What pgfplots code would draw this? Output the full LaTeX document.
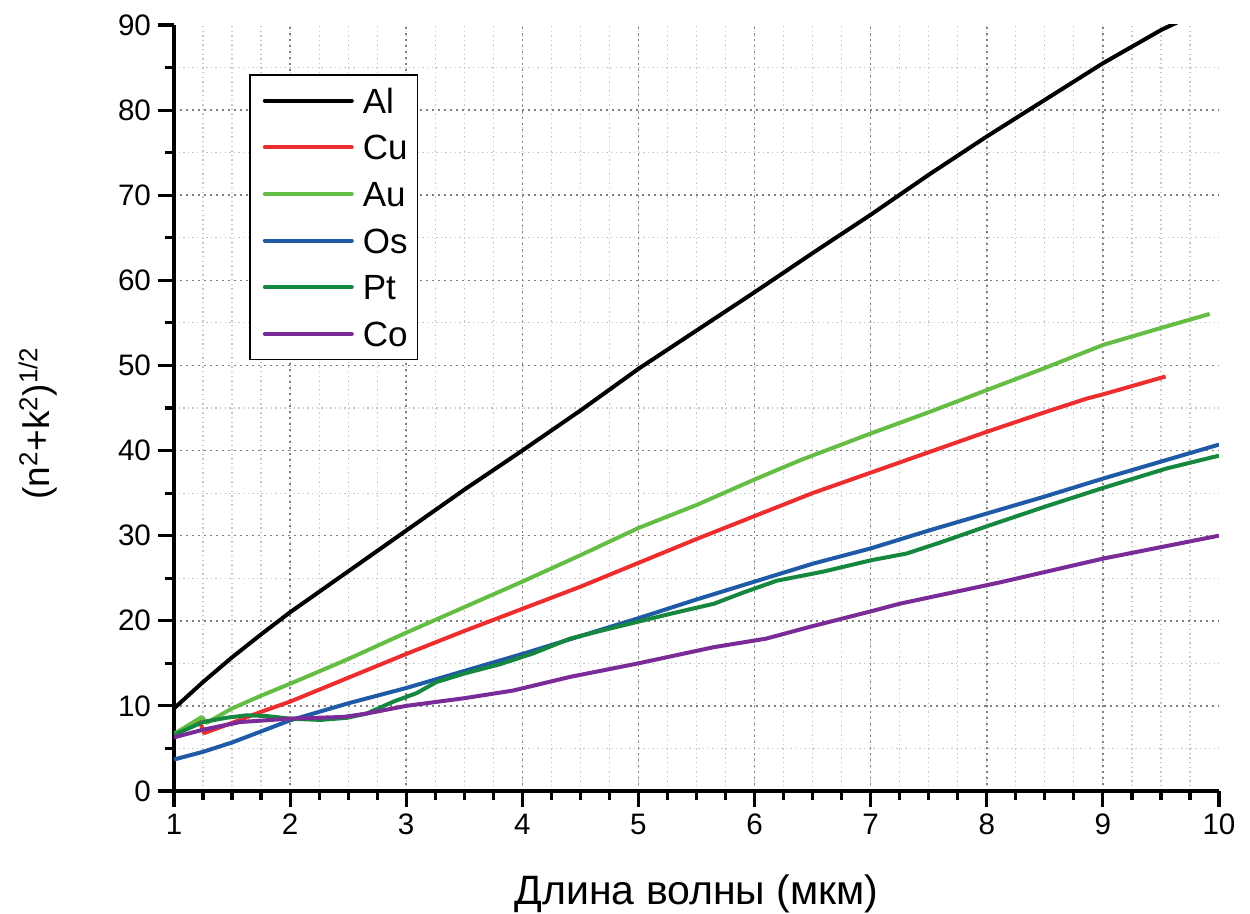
\documentclass[border=0pt]{standalone}
\usepackage{fontspec}
\setmainfont{Liberation Sans}
\usepackage{pgfplots}
\pgfplotsset{compat=1.18}

\definecolor{cAl}{HTML}{000000}
\definecolor{cCu}{HTML}{ED2E2E}
\definecolor{cAu}{HTML}{66BD46}
\definecolor{cOs}{HTML}{1F5AA6}
\definecolor{cPt}{HTML}{16873E}
\definecolor{cCo}{HTML}{7B2B98}

\begin{document}
\begin{tikzpicture}
\begin{axis}[
  name=ax,
  at={(0,0)}, anchor=south west,
  scale only axis, width=522.5pt, height=383pt,
  xmin=1, xmax=10, ymin=0, ymax=90,
  axis x line*=bottom, axis y line*=left,
  axis line style={line width=1.6pt, black},
  tick align=outside,
  every tick/.style={line width=1.6pt, black},
  major tick length=8pt, minor tick length=4.5pt,
  xtick={1,...,9}, extra x ticks={10}, extra x tick style={grid=none},
  ytick={0,10,...,80}, extra y ticks={90}, extra y tick style={grid=none},
  minor xtick={1.25,1.5,...,9.75},
  minor ytick={5,15,...,85},
  grid=both,
  major grid style={gray, dash pattern=on 1pt off 2pt, line width=0.75pt},
  minor grid style={gray!45, dash pattern=on 0.7pt off 1.6pt, line width=0.6pt},
  /pgf/number format/assume math mode=true,
  tick label style={font=\fontsize{14.8}{17}\selectfont},
  xlabel={Длина волны (мкм)},
  xlabel style={at={(axis description cs:0.5,-0.1488)}, anchor=base, font=\fontsize{20.5}{24}\selectfont},
  ylabel={(n\textsuperscript{2}+k\textsuperscript{2})\textsuperscript{1/2}},
  ylabel style={at={(axis description cs:-0.13,0.48)}, rotate=0, anchor=center, font=\fontsize{18.5}{21}\selectfont},
  legend style={at={(0.0718,0.936)}, anchor=north west, draw=black, line width=0.8pt,
    font=\fontsize{17.5}{20}\selectfont, inner xsep=5pt, inner ysep=1.3pt,
    column sep=4.5pt,
    nodes={text height=12.5pt, text depth=0pt, inner ysep=5.4pt, inner xsep=0pt}},
  legend cell align=left,
  legend image code/.code={\path (-1.5pt,0pt); \draw[#1, line width=2pt, line cap=round] (0pt,0pt) -- (43.5pt,0pt);},
  every axis plot/.append style={line width=2pt, line join=round},
]
\addplot[cAl] coordinates {
(1.0,9.7) (1.25,12.8) (1.5,15.7) (1.75,18.4) (2.0,21.0) (2.25,23.4) (2.5,25.8)
(2.75,28.2) (3.0,30.6) (3.5,35.4) (4.0,40.0) (4.5,44.7) (5.0,49.6) (5.5,54.1)
(6.0,58.6) (6.5,63.2) (7.0,67.7) (7.5,72.4) (8.0,76.9) (8.5,81.2) (9.0,85.5)
(9.5,89.4) (9.7,90.7)};
\addplot[cCu] coordinates {
(1.0,6.7) (1.1,7.4) (1.22,8.2) (1.26,6.8) (1.5,8.0) (1.75,9.3) (2.0,10.5)
(2.5,13.3) (3.0,16.1) (3.5,18.8) (4.0,21.4) (4.5,24.0) (5.0,26.8) (5.5,29.6)
(6.0,32.3) (6.5,35.0) (7.0,37.4) (7.5,39.8) (8.0,42.2) (8.5,44.5) (8.86,46.1)
(9.0,46.6) (9.54,48.7)};
\addplot[cAu] coordinates {
(1.0,6.7) (1.12,7.7) (1.24,8.7) (1.28,8.0) (1.5,9.7) (1.75,11.2) (2.0,12.6)
(2.5,15.5) (3.0,18.6) (3.5,21.6) (4.0,24.6) (4.5,27.7) (5.0,30.9) (5.5,33.6)
(6.0,36.6) (6.4,38.9) (7.0,42.0) (7.5,44.5) (8.0,47.1) (8.5,49.7) (9.0,52.4)
(9.5,54.4) (9.92,56.05)};
\addplot[cOs] coordinates {
(1.0,3.7) (1.25,4.6) (1.5,5.7) (1.75,7.0) (2.0,8.3) (2.5,10.3) (3.0,12.1)
(3.5,14.1) (4.0,16.1) (4.5,18.2) (5.0,20.3) (5.5,22.5) (6.0,24.6) (6.5,26.7)
(7.0,28.5) (7.5,30.6) (8.0,32.6) (8.5,34.6) (9.0,36.7) (9.5,38.7) (10.0,40.7)};
\addplot[cPt] coordinates {
(1.0,6.6) (1.25,8.1) (1.45,8.6) (1.63,8.9) (1.8,8.8) (2.0,8.5) (2.26,8.35)
(2.49,8.6) (2.66,9.1) (2.89,10.5) (3.09,11.5) (3.26,12.8) (3.5,13.8) (3.81,14.9)
(4.1,16.2) (4.41,17.9) (4.7,18.9) (5.0,19.9) (5.3,20.9) (5.65,22.0) (5.9,23.3)
(6.19,24.7) (6.6,25.8) (7.0,27.1) (7.31,27.9) (7.6,29.2) (8.0,31.1) (8.5,33.4)
(9.0,35.6) (9.55,37.9) (10.0,39.4)};
\addplot[cCo] coordinates {
(1.0,6.3) (1.25,7.2) (1.57,8.1) (2.0,8.5) (2.46,8.7) (2.66,9.1) (3.0,10.0)
(3.5,10.9) (3.92,11.8) (4.41,13.4) (5.0,15.0) (5.65,16.9) (6.1,17.9) (6.48,19.3)
(7.0,21.1) (7.25,22.0) (8.11,24.5) (9.0,27.3) (10.0,30.0)};
\legend{Al,Cu,Au,Os,Pt,Co}
\end{axis}
\pgfresetboundingbox
\path[use as bounding box] (-87pt,-61.5pt) rectangle (538pt,395.5pt);
\end{tikzpicture}
\end{document}
